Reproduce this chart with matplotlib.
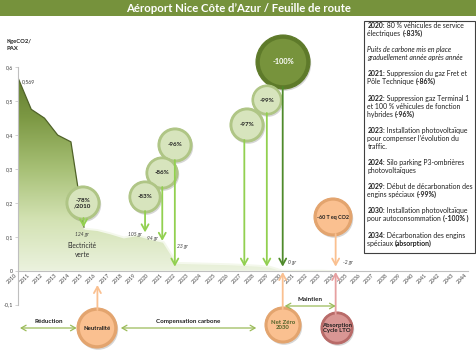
import matplotlib
matplotlib.use("Agg")
import numpy as np
import matplotlib.pyplot as plt
from matplotlib.patches import Circle, Rectangle, Polygon
from matplotlib.colors import LinearSegmentedColormap

plt.rcParams['font.family'] = ['Lato', 'DejaVu Sans']

W, H = 477, 356

# --- data ---
years = list(range(2010, 2035))
kg_pax = [0.569, 0.476, 0.45, 0.40, 0.38, 0.124, 0.12, 0.11, 0.098, 0.105,
          0.094, 0.085, 0.023, 0.022, 0.021, 0.02, 0.019, 0.017, 0.015, 0.012,
          0.0, 0.0, 0.0, 0.0, -0.002]
axis_years = list(range(2010, 2045))
y_ticks = [-0.1, 0.0, 0.1, 0.2, 0.3, 0.4, 0.5, 0.6]

# value labels along the curve (text, year, value)
gr_text = ["124 gr", "105 gr", "94 gr", "23 gr", "0 gr", "-2 gr"]
gr_year = [2014.85, 2018.85, 2020.15, 2022.4, 2030.7, 2034.9]
gr_val = [0.108, 0.108, 0.094, 0.071, 0.023, 0.023]

# milestones above the axis (label, year pointed at, value pointed at)
ms_text = ["-78%\n/2010", "-83%", "-86%", "-96%", "-97%", "-99%", "-100%", "-60 T eq CO2"]
ms_year = [2014.95, 2019.6, 2020.9, 2021.85, 2027.1, 2028.8, 2030.0, 2034.0]
ms_val = [0.128, 0.113, 0.088, 0.012, 0.012, 0.012, 0.012, 0.012]

# milestones below the axis
low_text = ["Neutralité", "Net Zéro\n2030", "Absorption\nCycle LTO"]
low_year = [2016, 2030, 2034]

# phases
phase_text = ["Réduction", "Compensation carbone", "Maintien"]
phase_start = [2010.15, 2017.77, 2030.15]
phase_end = [2014.43, 2028.0, 2034.0]

notes = [
    [[("2020:", "b"), (" 80 % véhicules de service", "n")], [("électriques ", "n"), ("(-83%)", "b")]],
    [[("Puits de carbone mis en place", "i")], [("graduellement année après année", "i")]],
    [[("2021:", "b"), (" Suppression du gaz Fret et", "n")], [("Pôle Technique ", "n"), ("(-86%)", "b")]],
    [[("2022:", "b"), (" Suppression gaz Terminal 1", "n")], [("et 100 % véhicules de fonction", "n")],
     [("hybrides ", "n"), ("(-96%)", "b")]],
    [[("2023:", "b"), (" Installation photovoltaïque", "n")], [("pour compenser l’évolution du", "n")],
     [("traffic.", "n")]],
    [[("2024:", "b"), (" Silo parking P3-ombrières", "n")], [("photovoltaïques", "n")]],
    [[("2029:", "b"), (" Début de décarbonation des", "n")], [("engins spéciaux ", "n"), ("(-99%)", "b")]],
    [[("2030:", "b"), (" Installation photovoltaïque", "n")], [("pour autoconsommation ", "n"), ("(-100% )", "b")]],
    [[("2034:", "b"), (" Décarbonation des engins", "n")], [("spéciaux ", "n"), ("(absorption)", "b")]],
]

fig = plt.figure(figsize=(W / 100, H / 100), dpi=100)
fig.patch.set_facecolor('white')

ax = fig.add_axes([18 / W, (H - 304.6) / H, 450 / W, (304.6 - 67.3) / H])
ax.set_facecolor('none')
for s in ['top', 'right']:
    ax.spines[s].set_visible(False)
ax.spines['bottom'].set_position(('data', 0))
ax.spines['bottom'].set_color('#BFBFBF')
ax.spines['left'].set_color('#BFBFBF')
ax.spines['bottom'].set_linewidth(0.8)
ax.spines['left'].set_linewidth(0.8)

# gradient area
cmap = LinearSegmentedColormap.from_list('g', ['#EBF2DE', '#D3E2B3', '#A7C076', '#7D9944', '#5C762B'])
grad = np.linspace(0, 1, 256).reshape(-1, 1)
img = ax.imshow(grad, extent=[2010, 2034, 0, 0.6], origin='lower', aspect='auto', cmap=cmap, zorder=1)
poly = Polygon(list(zip(years, kg_pax)) + [(2034, 0), (2010, 0)], closed=True, transform=ax.transData)
img.set_clip_path(poly)
ax.plot(years[:6], kg_pax[:6], color='#4F6228', lw=0.9, zorder=2)
ax.plot(years[5:], kg_pax[5:], color='#F4F8EC', lw=1.4, zorder=2)

ax.set_xlim(2010, 2044)
ax.set_ylim(-0.1, 0.6)
ax.set_xticks(axis_years)
ax.set_xticklabels([str(y) for y in axis_years])
ax.set_yticks(y_ticks)
ax.set_yticklabels([('%g' % v).replace('.', ',') for v in y_ticks])
ax.tick_params(length=2, width=0.5, color='#BFBFBF', pad=1.5, labelsize=3.8, labelcolor='#404040')
ax.tick_params(axis='x', labelrotation=45, length=0)
for lab in ax.get_xticklabels():
    lab.set_ha('right')
    lab.set_va('top')
ax.text(2010.3, 0.569 - 0.005, '0,569', fontsize=3.8, color='#404040', va='top')

for t, x, y in zip(gr_text, gr_year, gr_val):
    ax.text(x, y, t, fontsize=3.6, style='italic', color='#404040', ha='center', va='center')
ax.text(2014.85, 0.06, 'Electricité\nverte', fontsize=4.8, color='#303030', ha='center', va='center', linespacing=1.3)

# overlay in pixel units
ov = fig.add_axes([0, 0, 1, 1])
ov.set_xlim(0, W)
ov.set_ylim(H, 0)
ov.axis('off')


def to_px(x, y):
    dx, dy = ax.transData.transform((x, y))
    return dx, H - dy


def bubble(cx, cy, r, face, edge, text, tcolor, fs):
    ov.add_patch(Circle((cx + 1.2, cy + 1.8), r, color='#000000', alpha=0.16, lw=0))
    ov.add_patch(Circle((cx, cy), r, facecolor=edge, edgecolor=edge, lw=0.8))
    ov.add_patch(Circle((cx, cy), r * 0.86, facecolor=face, lw=0))
    ov.text(cx, cy, text, ha='center', va='center', fontsize=fs, fontweight='bold', color=tcolor, linespacing=1.2)


def arrow(p0, p1, color, lw=1.3):
    ov.annotate('', xy=p1, xytext=p0,
                arrowprops=dict(arrowstyle='->,head_length=0.45,head_width=0.25', color=color, lw=lw,
                                shrinkA=0, shrinkB=0))


# title bar
ov.add_patch(Rectangle((0, 0), W, 16, facecolor='#76923C', lw=0))
ov.text(W / 2, 8.2, 'Aéroport Nice Côte d’Azur / Feuille de route', color='white', fontsize=8.2,
        fontweight='bold', ha='center', va='center')
ov.text(7, 45, 'KgeCO2/\nPAX', fontsize=4.2, fontweight='bold', color='#202020', va='center', linespacing=1.4)

# top milestones
centers = [(83, 203), (145, 197), (162, 173), (175, 145), (247, 125), (267, 100), (283, 62), (333, 217)]
radii = [17, 16, 16, 17, 17, 15, 27, 19]
green_face, green_edge = '#D7E4BD', '#AFC585'
arrow_cols = ['#92D050'] * 6 + ['#4F8A2B', '#FAC090']
faces = [green_face] * 6 + ['#77933C', '#FAC090']
edges = [green_edge] * 6 + ['#5E7A2A', '#E3A46E']
tcols = ['#1F1F1F'] * 6 + ['white', '#1F1F1F']
fsz = [4.5, 4.5, 4.5, 4.5, 4.5, 4.5, 5.4, 3.9]

for i in range(len(ms_text)):
    tx, ty = to_px(ms_year[i], ms_val[i])
    cx, cy = centers[i]
    arrow((tx, cy + radii[i] - 2), (tx, ty), arrow_cols[i])
for i in reversed(range(len(ms_text))):
    cx, cy = centers[i]
    bubble(cx, cy, radii[i], faces[i], edges[i], ms_text[i], tcols[i], fsz[i])

# lower milestones
low_centers = [(97, 328), (283, 325), (337, 328)]
low_r = [20, 18, 16]
low_faces = ['#FAC090', '#FAC090', '#D99694']
low_edges = ['#E3A46E', '#E3A46E', '#B86A68']
low_tcols = ['#1F1F1F', '#4F6228', '#1F1F1F']
low_arrow = ['#FAC090', '#FAC090', '#E6A0A0']
low_tip = [285, 272, 272]
for i in range(3):
    tx, _ = to_px(low_year[i], 0)
    cx, cy = low_centers[i]
    arrow((tx, cy - low_r[i] + 2), (tx, low_tip[i]), low_arrow[i])
    bubble(cx, cy, low_r[i], low_faces[i], low_edges[i], low_text[i], low_tcols[i], 4.3)

# phases
phase_y = [328, 328, 306]
for i in range(3):
    x0, _ = to_px(phase_start[i], 0)
    x1, _ = to_px(phase_end[i], 0)
    ov.annotate('', xy=(x1, phase_y[i]), xytext=(x0, phase_y[i]),
                arrowprops=dict(arrowstyle='<->,head_length=0.35,head_width=0.2', color='#9BBB59', lw=0.9,
                                shrinkA=0, shrinkB=0))
    ov.text((x0 + x1) / 2, phase_y[i] - 6.5, phase_text[i], fontsize=4.5, fontweight='bold',
            color='#1F1F1F', ha='center', va='center')

# notes box
ov.add_patch(Rectangle((364.5, 20.5), 111, 232, facecolor='white', edgecolor='#404040', lw=0.8, zorder=5))
styles = {'b': dict(fontweight='bold'), 'n': dict(), 'i': dict(style='italic')}
y = 25.5
for para in notes:
    for line in para:
        prev = None
        for s, st in line:
            if prev is None:
                prev = ov.text(367.5, y, s, fontsize=4.95, color='#1F1F1F', va='center', ha='left', zorder=6,
                               **styles[st])
            else:
                prev = ov.annotate(s, xy=(1, 0), xycoords=prev, va='bottom', ha='left', fontsize=4.95,
                                   color='#1F1F1F', zorder=6, **styles[st])
        y += 8
    y += 8.2

fig.savefig('out.png', dpi=100)
